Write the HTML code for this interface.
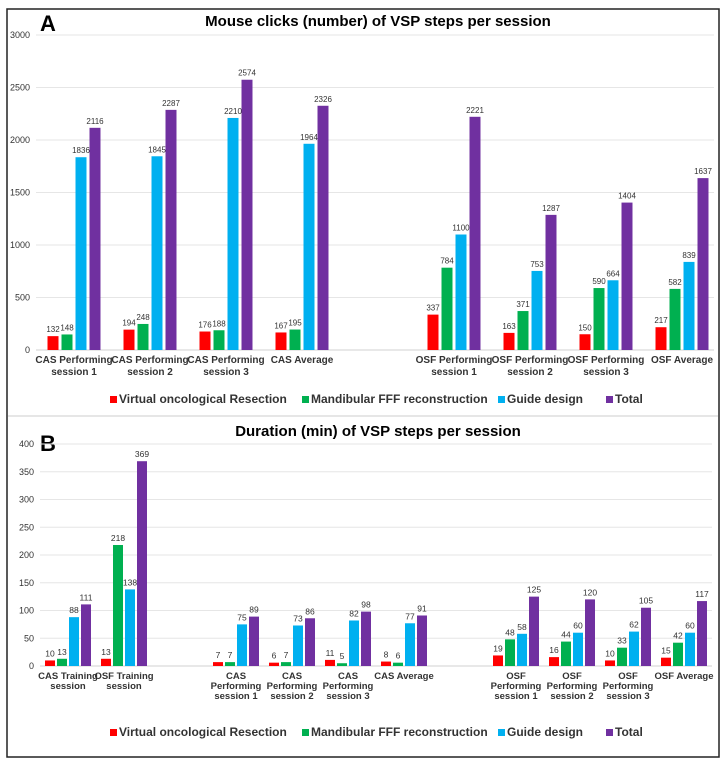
<!DOCTYPE html>
<html><head><meta charset="utf-8"><style>
body{margin:0;background:#fff;font-family:"Liberation Sans",Arial,sans-serif}
svg{display:block}
</style></head><body>
<svg id="s" width="727" height="765" xmlns="http://www.w3.org/2000/svg" font-family="Liberation Sans, Arial, sans-serif">
<rect x="7" y="9" width="712" height="748" fill="#fff" stroke="#222" stroke-width="1.5"/>
<line x1="8" y1="416" x2="718" y2="416" stroke="#ccc" stroke-width="1"/>
<text x="40" y="31" font-size="22" font-weight="bold">A</text>
<text x="378" y="26" font-size="15" font-weight="bold" text-anchor="middle">Mouse clicks (number) of VSP steps per session</text>
<text x="40" y="451" font-size="22" font-weight="bold">B</text>
<text x="378" y="436" font-size="15" font-weight="bold" text-anchor="middle">Duration (min) of VSP steps per session</text>
</svg>
<script>
const colors=["#ff0000","#00b050","#00b0f0","#7030a0"];
const seriesNames=["Virtual oncological Resection","Mandibular FFF reconstruction","Guide design","Total"];
// Chart A
const catsA=[["CAS Performing","session 1"],["CAS Performing","session 2"],["CAS Performing","session 3"],["CAS Average"],null,["OSF Performing","session 1"],["OSF Performing","session 2"],["OSF Performing","session 3"],["OSF Average"]];
const resA=[132,194,176,167,null,337,163,150,217];
const fffA=[148,248,188,195,null,784,371,590,582];
const guideA=[1836,1845,2210,1964,null,1100,753,664,839];
const totalA=[2116,2287,2574,2326,null,2221,1287,1404,1637];
const ticksA=[0,500,1000,1500,2000,2500,3000];
// Chart B
const catsB=[["CAS Training","session"],["OSF Training","session"],null,["CAS","Performing","session 1"],["CAS","Performing","session 2"],["CAS","Performing","session 3"],["CAS Average"],null,["OSF","Performing","session 1"],["OSF","Performing","session 2"],["OSF","Performing","session 3"],["OSF Average"]];
const resB=[10,13,null,7,6,11,8,null,19,16,10,15];
const fffB=[13,218,null,7,7,5,6,null,48,44,33,42];
const guideB=[88,138,null,75,73,82,77,null,58,60,62,60];
const totalB=[111,369,null,89,86,98,91,null,125,120,105,117];
const ticksB=[0,50,100,150,200,250,300,350,400];

const svg=document.getElementById('s');
const NS="http://www.w3.org/2000/svg";
function mk(tag,attrs,txt){const e=document.createElementNS(NS,tag);for(const k in attrs)e.setAttribute(k,attrs[k]);if(txt!=null)e.textContent=txt;svg.appendChild(e);return e;}

function chart(o){
  const y=v=>o.y0-(v/o.max)*(o.y0-o.yTop);
  const slot=(o.x1-o.x0)/o.cats.length;
  const cx=i=>o.x0+slot*(i+0.5);
  o.ticks.forEach(t=>{
    const g=mk('line',{x1:o.x0,x2:o.gx1,y1:y(t),y2:y(t),stroke:t===0?'#d0d0d0':'#e6e6e6','stroke-width':1});
    
    
    const l=mk('text',{x:o.x0-6,y:y(t)+3,'font-size':9,'text-anchor':'end',fill:'#333'},t);
    
    
  });
  const series=[o.s0,o.s1,o.s2,o.s3];
  o.cats.forEach((c,i)=>{
    if(!c)return;
    series.forEach((s,k)=>{
      const v=s[i];
      const bx=cx(i)+(k-1.5)*o.step-o.bw/2;
      const r=mk('rect',{x:bx,y:y(v),width:o.bw,height:o.y0-y(v),fill:colors[k]});
      
      
      const t=mk('text',{x:bx+o.bw/2,y:y(v)-4,'font-size':o.vfs,'text-anchor':'middle',fill:'#333'},v);
      
      
    });
    c.forEach((line,j)=>{
      const t=mk('text',{x:cx(i),y:o.y0+13+j*o.lh,'font-size':o.cfs,'font-weight':'bold','text-anchor':'middle',fill:'#333'},line);
      
      
    });
  });
  const widths=[170,174,86,40];
  let total=widths.reduce((a,b)=>a+b,0)+3*22;
  let lx=378-total/2;
  seriesNames.forEach((n,k)=>{
    const r=mk('rect',{x:lx,y:o.ly-7,width:7,height:7,fill:colors[k]});
    
    
    const t=mk('text',{x:lx+9,y:o.ly,'font-size':12,'font-weight':'bold',fill:'#333'},n);
    
    
    lx+=widths[k]+22;
  });
}
chart({cats:catsA,s0:resA,s1:fffA,s2:guideA,s3:totalA,ticks:ticksA,max:3000,x0:36,x1:720,gx1:714,y0:350,yTop:35,bw:11,step:14,ly:403,lh:12,cfs:10,vfs:8});
chart({cats:catsB,s0:resB,s1:fffB,s2:guideB,s3:totalB,ticks:ticksB,max:400,x0:40,x1:712,gx1:712,y0:666,yTop:444,bw:10,step:12,ly:736,lh:10,cfs:9.5,vfs:8.5});
</script>
</body></html>
